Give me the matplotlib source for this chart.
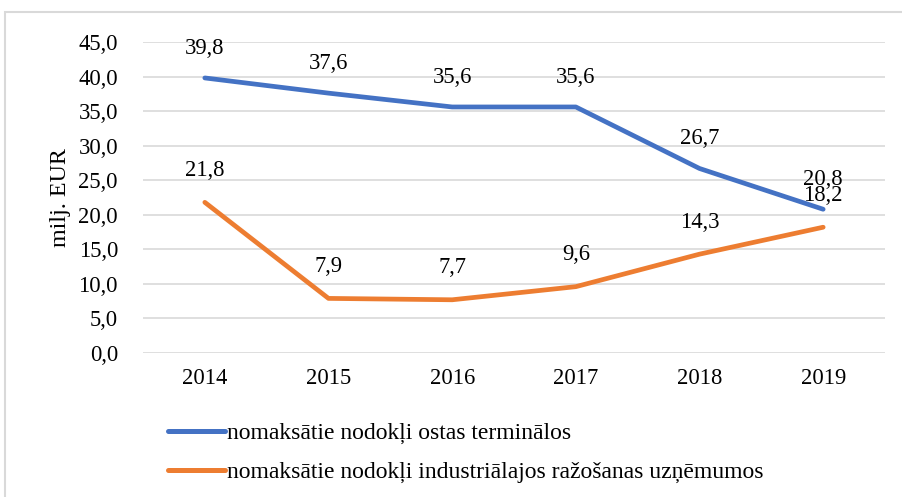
import matplotlib
matplotlib.use("Agg")
import matplotlib.pyplot as plt
from matplotlib.patches import Rectangle

years = ["2014", "2015", "2016", "2017", "2018", "2019"]
ostas = [39.8, 37.6, 35.6, 35.6, 26.7, 20.8]
industr = [21.8, 7.9, 7.7, 9.6, 14.3, 18.2]
series_names = ["nomaksātie nodokļi ostas terminālos",
                "nomaksātie nodokļi industriālajos ražošanas uzņēmumos"]
yticks = [0, 5, 10, 15, 20, 25, 30, 35, 40, 45]

plt.rcParams['font.family'] = ['Liberation Serif', 'DejaVu Serif']
FS = 16.3

fig = plt.figure(figsize=(9.03, 4.97), dpi=100)
fig.patches.append(Rectangle((5/903, -0.05), 1.1, 1 - 12/497 + 0.05,
                             transform=fig.transFigure, fill=False,
                             edgecolor="#d9d9d9", linewidth=1.5))
ax = fig.add_axes([143/903, 1 - 353/497, (885 - 143)/903, (353 - 42)/497])

x = list(range(len(years)))
blue = "#4472C4"
orange = "#ED7D31"
ax.plot(x, ostas, color=blue, lw=3.4, solid_capstyle="round", label=series_names[0], zorder=3)
ax.plot(x, industr, color=orange, lw=3.4, solid_capstyle="round", label=series_names[1], zorder=3)

def fmt(v):
    return f"{v:.1f}".replace(".", ",")

for xi, v in zip(x, ostas):
    ax.annotate(fmt(v), (xi, v), xytext=(0, 21.5), textcoords="offset points",
                ha="center", va="center", fontsize=FS)
for xi, v in zip(x, industr):
    ax.annotate(fmt(v), (xi, v), xytext=(0, 23), textcoords="offset points",
                ha="center", va="center", fontsize=FS)

ax.set_xlim(-0.5, len(years) - 0.5)
ax.set_ylim(0, 45)
ax.set_yticks(yticks)
ax.set_yticklabels([fmt(t) for t in yticks], fontsize=FS)
ax.set_xticks(x)
ax.set_xticklabels(years, fontsize=FS)
ax.tick_params(axis="both", length=0)
ax.tick_params(axis="y", pad=18)
ax.tick_params(axis="x", pad=11)
ax.grid(axis="y", color="#d9d9d9", lw=1.2)
ax.set_axisbelow(True)
for s in ax.spines.values():
    s.set_visible(False)
ax.set_ylabel("milj. EUR", fontsize=FS + 1, labelpad=5)

leg = fig.legend(handles=ax.get_lines(), loc="upper left",
                 bbox_to_anchor=(147/903, 1 - 401/497), frameon=False,
                 fontsize=FS + 0.7, handlelength=2.4, handletextpad=0.1,
                 labelspacing=0.75)
for h in leg.get_lines():
    h.set_linewidth(3.6)

fig.savefig("out.png", dpi=100)
